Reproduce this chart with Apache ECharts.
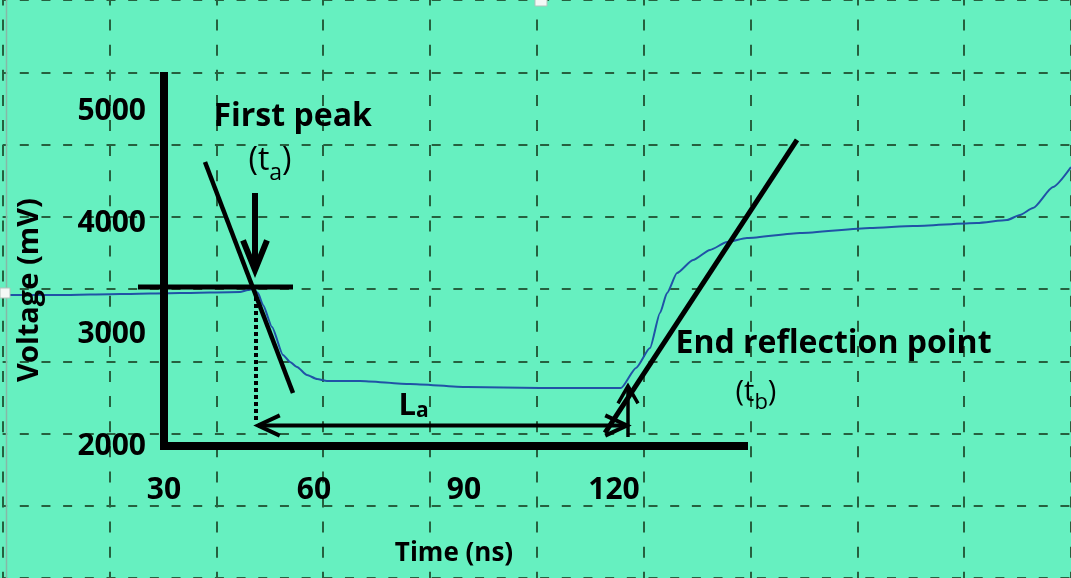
<!DOCTYPE html>
<html>
<head>
<meta charset="utf-8">
<script src="https://cdn.jsdelivr.net/npm/echarts@6/dist/echarts.min.js"></script>
<style>
  html, body { margin: 0; padding: 0; background: #66f0c0; }
  #chart { width: 1071px; height: 578px; }
</style>
</head>
<body>
<div id="chart"></div>
<script>
// Reflection trace: time (ns) against voltage (mV)
const timeNs = [-1.2, 9.2, 21.2, 33.2, 45.2, 46.8, 47.8, 48.8, 49.8, 51.6, 53.8, 55.2, 56.6, 58.6, 60.6, 62.6,
  69.2, 79.2, 90.6, 105.2, 121.4, 124.4, 127.2, 129.2, 130.6, 132.6, 135.8, 139.2, 142.6, 146.6,
  157.2, 171.2, 179.8, 192.6, 198.6, 201.2, 203.8, 207.8, 211.4];
const voltageMv = [3355, 3355, 3364, 3373, 3382, 3400, 3409, 3373, 3265, 3068, 2817, 2754, 2709, 2637, 2601, 2583,
  2583, 2556, 2529, 2520, 2520, 2700, 2879, 3193, 3373, 3552, 3669, 3759, 3830, 3866,
  3911, 3956, 3974, 4001, 4028, 4073, 4135, 4324, 4503];

const timeTicks = [30, 60, 90, 120];
const voltageTicks = [2000, 3000, 4000, 5000];

// Construction lines, each [t1, v1, t2, v2]
const peakLevel = [24.8, 3427, 55.8, 3427];
const peakTangent = [38.2, 4548, 55.8, 2476];
const peakPointer = [48.2, 4270, 48.2, 3579];
const peakDrop = [48.4, 3337, 48.4, 2206];
const spanLa = [48.8, 2184, 122.6, 2184];
const endPointer = [122.8, 2081, 122.8, 2538];
const endTangent = [118.2, 2117, 156.6, 4746];

// Annotation anchors [t, v] (left edge, vertical middle)
const firstPeakAt = [39.8, 4952];
const taAt = [46.8, 4557];
const laAt = [76.8, 2359];
const endPointAt = [132.2, 2915];
const tbAt = [144.2, 2480];

const FONT = '"Open Sans", "Liberation Sans", sans-serif';
const INK = '#000';
const SCOPE_GRID = '#26603f';
const W = 1071, H = 578;

// Annotated frame (thick axes) and its value ranges
const frame = { left: 164, top: 76, width: 580, height: 370 };
const tMin = 30, tMax = 146, vMin = 2000, vMax = 5320;
const pxPerNs = frame.width / (tMax - tMin);
const pxPerMv = frame.height / (vMax - vMin);
// The same scale stretched over the whole canvas, so the trace can run edge to edge
const fullT = [tMin - frame.left / pxPerNs, tMax + (W - frame.left - frame.width) / pxPerNs];
const fullV = [vMin - (H - frame.top - frame.height) / pxPerMv, vMax + frame.top / pxPerMv];

const strokes = [
  { seg: peakLevel, width: 5 },
  { seg: peakTangent, width: 4.5 },
  { seg: peakPointer, width: 6, head: 'end', headLen: 32, headAngle: 22 },
  { seg: peakDrop, width: 4, dash: [4, 3] },
  { seg: spanLa, width: 4, head: 'both', headLen: 24, headAngle: 25 },
  { seg: endPointer, width: 3.5, head: 'end', headLen: 20, headAngle: 30 },
  { seg: endTangent, width: 5 }
];

function chevron(tip, from, len, angleDeg) {
  const dx = from[0] - tip[0], dy = from[1] - tip[1];
  const d = Math.hypot(dx, dy) || 1;
  const ux = dx / d, uy = dy / d;
  const a = angleDeg * Math.PI / 180;
  const rot = (s) => [
    tip[0] + len * (ux * Math.cos(s * a) - uy * Math.sin(s * a)),
    tip[1] + len * (ux * Math.sin(s * a) + uy * Math.cos(s * a))
  ];
  return [rot(1), tip, rot(-1)];
}

function renderStroke(params, api) {
  const s = strokes[api.value(4)];
  const p1 = api.coord([api.value(0), api.value(1)]);
  const p2 = api.coord([api.value(2), api.value(3)]);
  const style = { stroke: INK, lineWidth: s.width, lineDash: s.dash || null, lineCap: 'butt', lineJoin: 'miter' };
  const children = [{ type: 'line', shape: { x1: p1[0], y1: p1[1], x2: p2[0], y2: p2[1] }, style }];
  if (s.head === 'end' || s.head === 'both') {
    children.push({ type: 'polyline', shape: { points: chevron(p2, p1, s.headLen, s.headAngle) }, style: Object.assign({}, style, { fill: null }) });
  }
  if (s.head === 'both') {
    children.push({ type: 'polyline', shape: { points: chevron(p1, p2, s.headLen, s.headAngle) }, style: Object.assign({}, style, { fill: null }) });
  }
  return { type: 'group', children };
}

const labelRich = {
  bold: { fontFamily: FONT, fontSize: 32, fontWeight: 'bold', color: INK },
  taBase: { fontFamily: FONT, fontSize: 32, lineHeight: 48, color: INK },
  taSub: { fontFamily: FONT, fontSize: 23, lineHeight: 23, verticalAlign: 'bottom', color: INK },
  tbBase: { fontFamily: FONT, fontSize: 29, lineHeight: 42, color: INK },
  tbSub: { fontFamily: FONT, fontSize: 22, lineHeight: 25, verticalAlign: 'bottom', color: INK },
  laBase: { fontFamily: FONT, fontSize: 31, fontWeight: 'bold', lineHeight: 32, color: INK },
  laSub: { fontFamily: FONT, fontSize: 21, fontWeight: 'bold', lineHeight: 20, verticalAlign: 'bottom', color: INK }
};

const notes = [
  { value: firstPeakAt, text: '{bold|First peak}' },
  { value: taAt, text: '{taBase|(t}{taSub|a}{taBase|)}' },
  { value: laAt, text: '{laBase|L}{laSub|a}' },
  { value: endPointAt, text: '{bold|End reflection point}' },
  { value: tbAt, text: '{tbBase|(t}{tbSub|b}{tbBase|)}' }
];

const hiddenAxis = {
  axisLine: { show: false }, axisTick: { show: false }, axisLabel: { show: false }, splitLine: { show: false }
};

const chart = echarts.init(document.getElementById('chart'), null, { renderer: 'canvas' });

chart.setOption({
  backgroundColor: '#66f0c0',
  animation: false,
  grid: [
    // oscilloscope graticule
    { left: 2.6, top: -7.3, width: 1084, height: 602.4 },
    // annotated time / voltage frame
    Object.assign({}, frame),
    // full-canvas extension of the same time / voltage scale
    { left: 0, top: 0, width: W, height: H }
  ],
  xAxis: [
    {
      type: 'value', gridIndex: 0, min: -1, max: 9, interval: 1,
      axisLine: { show: false }, axisTick: { show: false }, axisLabel: { show: false },
      splitLine: { show: true, lineStyle: { color: SCOPE_GRID, width: 2, type: [11, 14.1], dashOffset: 5.5 } }
    },
    {
      type: 'value', gridIndex: 1, min: tMin, max: tMax, interval: 30, z: 4,
      axisLine: { show: true, onZero: false, lineStyle: { color: INK, width: 8, cap: 'square' } },
      axisTick: { show: false }, splitLine: { show: false },
      axisLabel: {
        showMaxLabel: false, margin: 29, color: INK, fontFamily: FONT, fontSize: 30, fontWeight: 'bold',
        formatter: (v) => (timeTicks.includes(v) ? String(v) : '')
      },
      name: 'Time (ns)', nameLocation: 'middle', nameGap: 95,
      nameTextStyle: { color: INK, fontFamily: FONT, fontSize: 26, fontWeight: 'bold' }
    },
    Object.assign({ type: 'value', gridIndex: 2, min: fullT[0], max: fullT[1] }, hiddenAxis)
  ],
  yAxis: [
    {
      type: 'value', gridIndex: 0, min: 0, max: 8, interval: 1,
      axisLine: { show: false }, axisTick: { show: false }, axisLabel: { show: false },
      splitLine: { show: true, lineStyle: { color: SCOPE_GRID, width: 2, type: [9, 12.68], dashOffset: 4.5 } }
    },
    {
      type: 'value', gridIndex: 1, min: vMin, max: vMax, interval: 1000, z: 4,
      axisLine: { show: true, onZero: false, lineStyle: { color: INK, width: 8, cap: 'square' } },
      axisTick: { show: false }, splitLine: { show: false },
      axisLabel: {
        showMaxLabel: false, margin: 18, color: INK, fontFamily: FONT, fontSize: 30, fontWeight: 'bold',
        formatter: (v) => (voltageTicks.includes(v) ? String(v) : '')
      }
    },
    Object.assign({ type: 'value', gridIndex: 2, min: fullV[0], max: fullV[1] }, hiddenAxis)
  ],
  series: [
    {
      type: 'line', xAxisIndex: 2, yAxisIndex: 2, z: 3,
      data: timeNs.map((t, i) => [t, voltageMv[i]]),
      showSymbol: false, smooth: 0.2, smoothMonotone: 'x',
      lineStyle: { color: '#2052a6', width: 2 }
    },
    {
      type: 'custom', xAxisIndex: 1, yAxisIndex: 1, z: 5, clip: false,
      data: strokes.map((s, i) => [...s.seg, i]),
      encode: { x: [0, 2], y: [1, 3] },
      renderItem: renderStroke
    },
    {
      type: 'scatter', xAxisIndex: 1, yAxisIndex: 1, z: 6, clip: false,
      symbolSize: 1, itemStyle: { color: 'rgba(0,0,0,0)', opacity: 1 },
      data: notes.map((n) => ({ value: n.value, text: n.text })),
      label: {
        show: true, position: 'right', distance: 0, align: 'left', verticalAlign: 'middle', opacity: 1,
        color: INK, formatter: (p) => p.data.text, rich: labelRich
      },
      emphasis: { disabled: true }
    }
  ],
  graphic: [
    {
      type: 'text', z: 10, x: 30, y: 290, rotation: Math.PI / 2,
      style: { text: 'Voltage (mV)', fill: INK, font: 'bold 29px ' + FONT, align: 'center', verticalAlign: 'middle' }
    },
    { type: 'line', z: 10, shape: { x1: 6.5, y1: 0, x2: 6.5, y2: H }, style: { stroke: '#86b8a6', lineWidth: 1.5 } },
    { type: 'rect', z: 10, shape: { x: 0, y: 288, width: 10, height: 10 }, style: { fill: '#f4f8f6', stroke: '#b0c4bc', lineWidth: 1 } },
    { type: 'rect', z: 10, shape: { x: 535, y: -1, width: 12, height: 7 }, style: { fill: '#f4f8f6', stroke: '#b0c4bc', lineWidth: 1 } }
  ]
});
</script>
</body>
</html>
